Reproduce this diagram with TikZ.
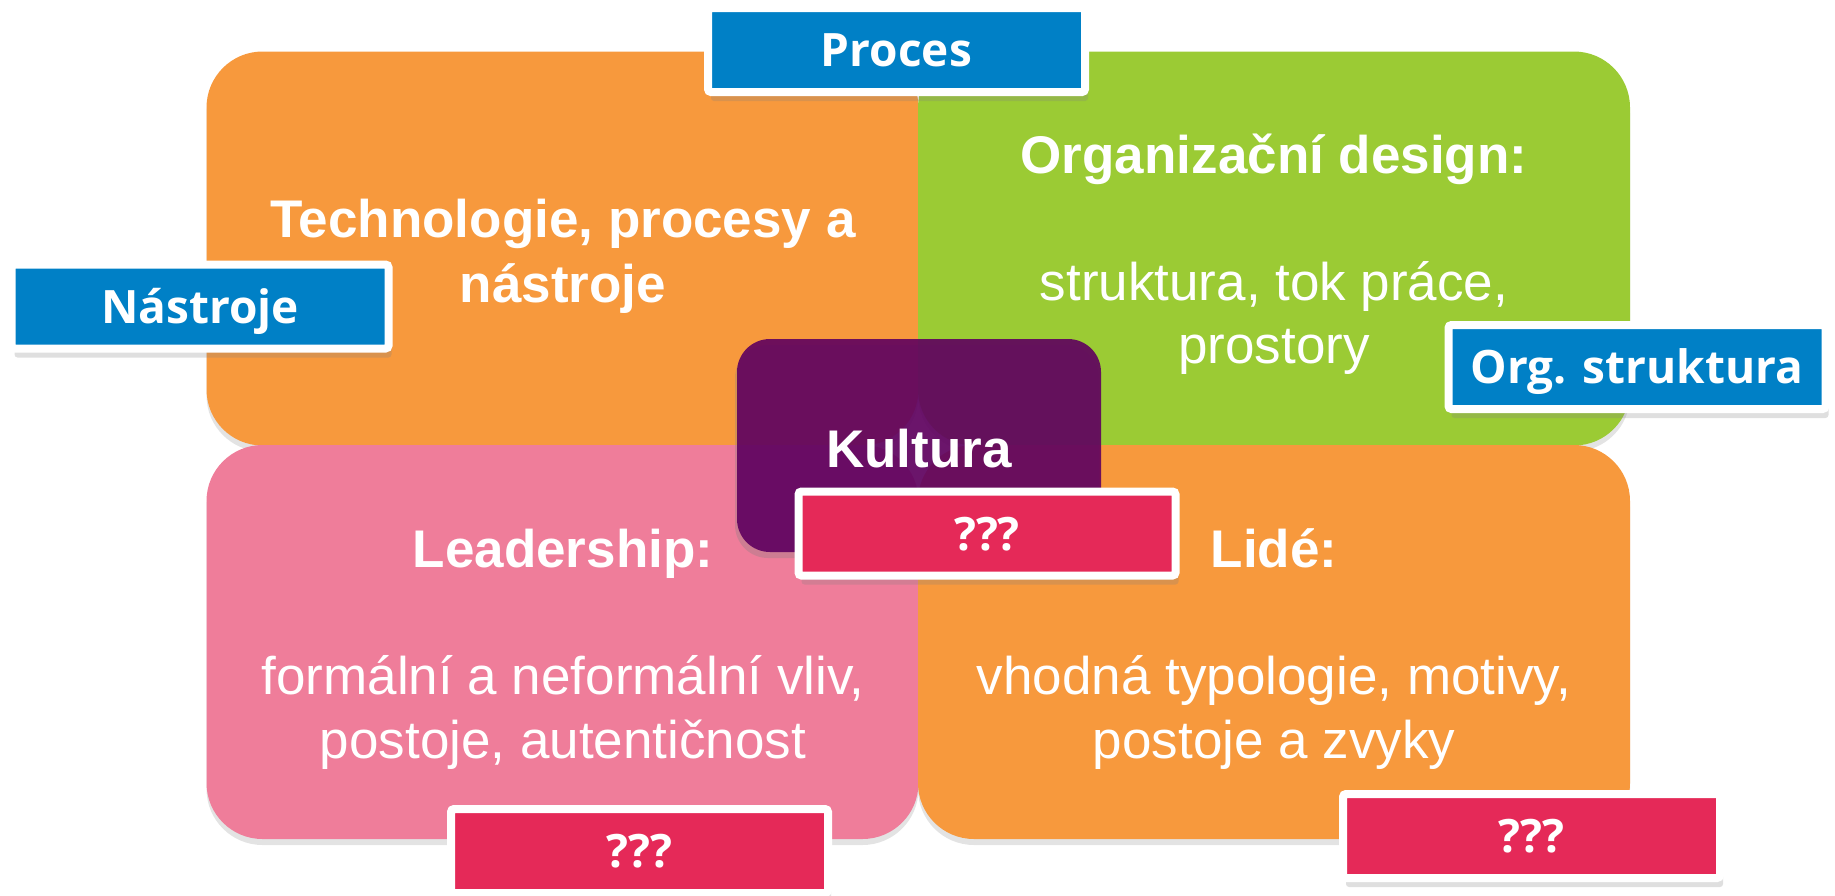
\documentclass[tikz,border=0pt]{standalone}
\usepackage{fontspec}
\setmainfont{Liberation Sans}
\newfontfamily\labfont{Open Sans}
\usetikzlibrary{shadows}
\definecolor{qorange}{RGB}{247,153,61}
\definecolor{qgreen}{RGB}{155,203,52}
\definecolor{qpink}{RGB}{239,125,154}
\definecolor{kpurple}{RGB}{95,0,95}
\definecolor{lblue}{RGB}{0,128,198}
\definecolor{lred}{RGB}{229,41,88}
\begin{document}
\begin{tikzpicture}[x=0.5pt,y=-0.5pt,
  quad/.style={rectangle, rounded corners=28pt, inner sep=0pt,
    minimum width=356pt, minimum height=197pt,
    drop shadow={shadow xshift=0pt, shadow yshift=-3pt, opacity=0.22}},
  title/.style={text=white, inner sep=0pt, anchor=base,
    font=\bfseries\fontsize{26.5pt}{32pt}\selectfont},
  body/.style={text=white, inner sep=0pt, anchor=base,
    font=\fontsize{26.5pt}{32pt}\selectfont},
  kult/.style={rectangle, rounded corners=16.5pt, inner sep=0pt,
    minimum width=182pt, minimum height=106.5pt, fill=kpurple, fill opacity=0.9,
    drop shadow={shadow xshift=-1pt, shadow yshift=-3pt, opacity=0.3}},
  lab/.style={rectangle, draw=white, line width=4pt, rounded corners=1.5pt,
    inner sep=0pt, minimum width=188.5pt, minimum height=42pt,
    text=white, text height=16.6pt, text depth=0pt,
    font=\labfont\bfseries\fontsize{23pt}{28pt}\selectfont,
    drop shadow={shadow xshift=1.5pt, shadow yshift=-4.5pt, opacity=0.25}}
]
\useasboundingbox (0,0) rectangle (1835,895);
% quadrants
\node[quad, fill=qorange] (tech) at (562.5,248.5) {};
\node[quad, fill=qgreen]  (org)  at (1274,248.5) {};
\node[quad, fill=qpink]   (lead) at (562.5,642) {};
\node[quad, fill=qorange] (lide) at (1274,642) {};
% quadrant texts
\node[title] (tech1) at (563,237) {Technologie, procesy a};
\node[title] (tech2) at (563,302) {nástroje};
\node[title] (org1) at (1274,173) {Organizační design:};
\node[body]  (org2) at (1274,300) {struktura, tok práce,};
\node[body]  (org3) at (1274,363) {prostory};
\node[title] (lead1) at (563,567) {Leadership:};
\node[body]  (lead2) at (563,694) {formální a neformální vliv,};
\node[body]  (lead3) at (563,758) {postoje, autentičnost};
\node[title] (lide1) at (1274,567) {Lidé:};
\node[body]  (lide2) at (1274,694) {vhodná typologie, motivy,};
\node[body]  (lide3) at (1274,758) {postoje a zvyky};
% centre
\node[kult] (kultura) at (919,445.5) {};
\node[title] (kulturat) at (919,467) {Kultura};
% labels
\node[lab, fill=lblue] (proces) at (896.5,50) {Proces};
\node[lab, fill=lblue] (nastroje) at (200,306.5) {Nástroje};
\node[lab, fill=lblue] (orgs) at (1637,367) {Org. struktura};
\node[lab, fill=lred] (q1) at (987,533.5) {???};
\node[lab, fill=lred] (q2) at (639.5,851) {???};
\node[lab, fill=lred] (q3) at (1531.5,836) {???};
\end{tikzpicture}
\end{document}
